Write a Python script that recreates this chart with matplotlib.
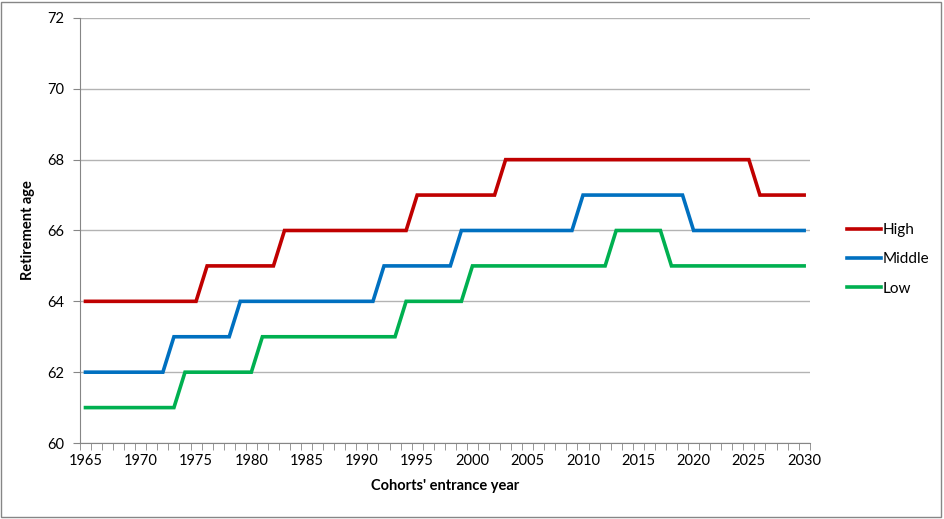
import matplotlib.pyplot as plt
import numpy as np
from matplotlib.patches import Rectangle

plt.rcParams['font.family'] = ['Lato', 'DejaVu Sans']

years = list(range(1965, 2031))

# step changes: (first year, value)
high_steps = [(1965, 64), (1976, 65), (1983, 66), (1995, 67), (2003, 68), (2026, 67)]
middle_steps = [(1965, 62), (1973, 63), (1979, 64), (1992, 65), (1999, 66), (2010, 67), (2020, 66)]
low_steps = [(1965, 61), (1974, 62), (1981, 63), (1994, 64), (2000, 65), (2013, 66), (2018, 65)]


def expand(steps):
    vals = []
    for y in years:
        v = None
        for start, val in steps:
            if y >= start:
                v = val
        vals.append(v)
    return vals


high = expand(high_steps)
middle = expand(middle_steps)
low = expand(low_steps)

color = ['#C00000', '#0070C0', '#00B050']  # red, blue, green
axis_gray = '#868686'

fig = plt.figure(figsize=(9.44, 5.19), dpi=100)
ax = fig.add_axes([0.0847, 0.1464, 0.773, 0.819])

ax.plot(years, high, c=color[0], linewidth=2.6, label='High', solid_joinstyle='miter')
ax.plot(years, middle, c=color[1], linewidth=2.6, label='Middle', solid_joinstyle='miter')
ax.plot(years, low, c=color[2], linewidth=2.6, label='Low', solid_joinstyle='miter')

ax.set_xlim(1964.5, 2030.5)
ax.set_ylim(60, 72)
ax.set_yticks(np.arange(60, 73, 2))
ax.set_xticks(np.arange(1965, 2031, 5))
ax.set_xticks(np.arange(1964.5, 2031, 1), minor=True)
ax.tick_params(axis='x', which='major', length=0, pad=8, labelsize=10.5)
ax.tick_params(axis='x', which='minor', length=5, color=axis_gray, direction='out')
ax.tick_params(axis='y', length=5, color=axis_gray, labelsize=10.5, pad=6)
ax.yaxis.grid(True, color='#b3b3b3', linewidth=1)
ax.set_axisbelow(True)
for s in ['top', 'right']:
    ax.spines[s].set_visible(False)
for s in ['left', 'bottom']:
    ax.spines[s].set_color(axis_gray)

ax.set_xlabel("Cohorts' entrance year", fontsize=10.5, fontweight='bold', labelpad=8)
ax.set_ylabel('Retirement age', fontsize=10.5, fontweight='bold', labelpad=9)

fig.legend(loc='center left', bbox_to_anchor=(0.883, 0.50), frameon=False,
           fontsize=11, handlelength=2.2, handletextpad=0.1, labelspacing=1.0)

fig.add_artist(Rectangle((0.001, 0.003), 0.996, 0.994, transform=fig.transFigure,
                         fill=False, edgecolor=axis_gray, linewidth=1))

fig.savefig('out.png', dpi=100)
